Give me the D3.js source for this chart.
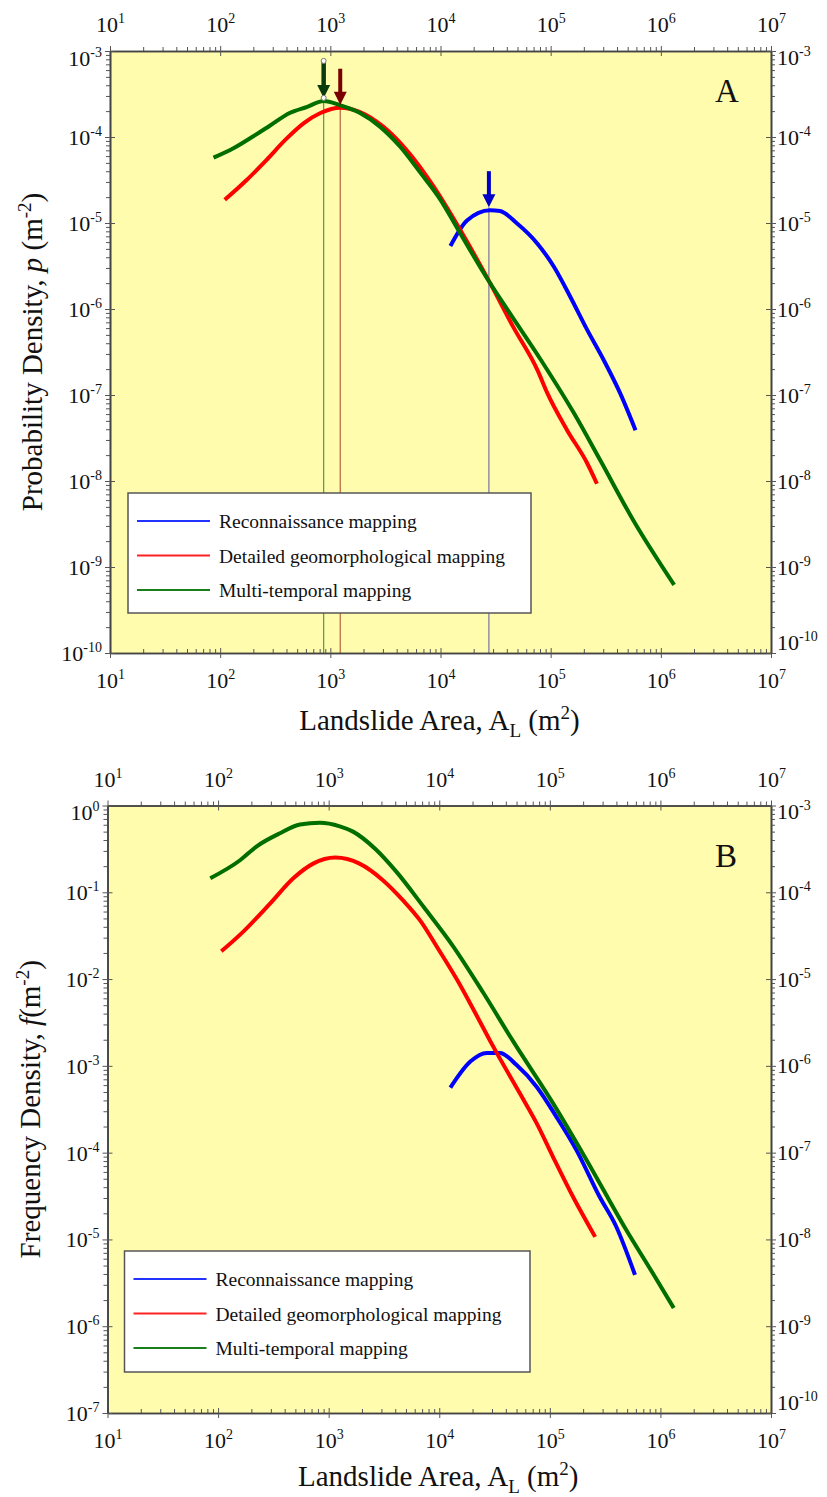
<!DOCTYPE html>
<html>
<head>
<meta charset="utf-8">
<script src="https://cdn.jsdelivr.net/npm/d3@7"></script>
<style>
  body { margin: 0; background: #fff; }
  svg, svg text, svg tspan { font-family: "Liberation Serif", "Times New Roman", Times, "DejaVu Serif", serif !important; }
  svg text { fill: #111; }
</style>
</head>
<body>
<svg id="chart" width="827" height="1497" font-family="Liberation Serif, serif"></svg>
<script>
// Landslide area-density curves: [area m2, density]
var seriesNames = ["Reconnaissance mapping", "Detailed geomorphological mapping", "Multi-temporal mapping"];

var areaTicks = [1e1, 1e2, 1e3, 1e4, 1e5, 1e6, 1e7];
var probTicks = [1e-3, 1e-4, 1e-5, 1e-6, 1e-7, 1e-8, 1e-9, 1e-10];
var freqTicks = [1e0, 1e-1, 1e-2, 1e-3, 1e-4, 1e-5, 1e-6, 1e-7];

// panel A: probability density p
var reconP = [[12300,5.4e-6],[17400,1.07e-5],[28200,1.41e-5],[34700,1.38e-5],[49000,1.0e-5],[75900,5.75e-6],
  [107000,3.1e-6],[151000,1.38e-6],[214000,5.75e-7],[302000,2.57e-7],[427000,1.05e-7],[589000,3.9e-8]];
var detailP = [[110,1.86e-5],[174,3.16e-5],[263,5.4e-5],[398,9.5e-5],[575,1.45e-4],[813,1.9e-4],[1230,2.19e-4],
  [1860,1.95e-4],[3020,1.32e-4],[4900,7.1e-5],[8710,2.63e-5],[14500,9.1e-6],[28200,2.0e-6],[45700,6.2e-7],
  [75900,1.95e-7],[93300,1.05e-7],[141000,3.9e-8],[214000,1.62e-8],[263000,9.3e-9]];
var multiP = [[87,5.75e-5],[132,7.4e-5],[200,1.02e-4],[282,1.35e-4],[427,1.9e-4],[617,2.24e-4],[871,2.63e-4],
  [1230,2.34e-4],[1860,1.9e-4],[2820,1.32e-4],[4270,7.8e-5],[6610,3.8e-5],[10000,1.86e-5],[14500,8.3e-6],
  [27500,2.1e-6],[42700,8.9e-7],[81300,2.57e-7],[162000,6.2e-8],[282000,1.74e-8],[562000,3.5e-9],[1320000,6.2e-10]];

// modes marked by arrows in panel A (recon, detailed, multi)
var modeArea = [27500, 1230, 870];
var modeProb = [1.41e-5, 2.19e-4, 2.63e-4];

// panel B: frequency density f
var reconF = [[12600,5.6e-4],[19100,1.12e-3],[26900,1.41e-3],[35500,1.41e-3],[50100,1.02e-3],[75900,5.75e-4],
  [115000,2.57e-4],[174000,1.07e-4],[282000,3.1e-5],[398000,1.41e-5],[589000,3.9e-6]];
var detailF = [[107,0.0209],[170,0.0355],[295,0.0741],[479,0.145],[724,0.214],[1150,0.251],[1900,0.214],
  [3090,0.138],[4680,0.0813],[6760,0.0468],[9550,0.0234],[14500,0.0098],[19100,0.0052],[28800,0.00195],
  [33100,1.41e-3],[53700,4.8e-4],[75900,2.19e-4],[107000,8.9e-5],[162000,3.1e-5],[257000,1.07e-5]];
var multiF = [[85,0.145],[158,0.234],[224,0.339],[363,0.479],[550,0.603],[832,0.631],[1260,0.575],[1660,0.50],
  [2690,0.309],[4070,0.174],[7240,0.0676],[13500,0.0234],[25100,0.0069],[46800,1.9e-3],[107000,3.7e-4],
  [214000,8.3e-5],[490000,1.29e-5],[851000,4.1e-6],[1320000,1.62e-6]];

var lineColors = ["#0000ff", "#ff0000", "#006e00"];
var legendColors = ["#2233ff", "#ff2222", "#1a7f1a"];
var arrowColors = ["#0000c8", "#7a0000", "#0b3a0b"];
var guideColors = ["#7474a4", "#b8603c", "#4f9a4f"];

var svg = d3.select("#chart");

function powLabel(text, d) {
  var e = Math.round(Math.log10(d));
  text.text(null);
  text.append("tspan").text("10");
  text.append("tspan").attr("dy", -9).attr("font-size", 14).text(e);
}

function drawPanel(p) {
  var x = d3.scaleLog().domain([1e1, 1e7]).range([p.left, p.right]);
  var y = d3.scaleLog().domain([p.yTicks[p.yTicks.length - 1], p.yTicks[0]]).range([p.bottom, p.top]);
  var yR = d3.scaleLog().domain([1e-10, 1e-3]).range([p.bottom, p.top]);

  var g = svg.append("g");

  g.append("rect")
    .attr("x", p.left).attr("y", p.top)
    .attr("width", p.right - p.left).attr("height", p.bottom - p.top)
    .attr("fill", "#fffdad");

  // guide lines at the modes
  if (p.modes) {
    p.modes.forEach(function(m, i) {
      var mx = x(m[0]), tip = y(m[1]) - 3;
      g.append("line")
        .attr("x1", mx).attr("x2", mx).attr("y1", tip).attr("y2", p.bottom)
        .attr("stroke", guideColors[i]).attr("stroke-width", 1.2);
    });
  }

  // legend
  var lg = g.append("g");
  lg.append("rect")
    .attr("x", p.legend[0]).attr("y", p.legend[1])
    .attr("width", p.legend[2]).attr("height", p.legend[3])
    .attr("fill", "#fff").attr("stroke", "#555").attr("stroke-width", 1.5);
  seriesNames.forEach(function(name, i) {
    var ly = p.legend[1] + 28 + i * 34.5;
    lg.append("line")
      .attr("x1", p.legend[0] + 9).attr("x2", p.legend[0] + 82)
      .attr("y1", ly).attr("y2", ly)
      .attr("stroke", legendColors[i]).attr("stroke-width", 2.2);
    lg.append("text")
      .attr("x", p.legend[0] + 91).attr("y", ly + 7)
      .attr("font-size", 19.5).text(name);
  });

  var line = d3.line()
    .x(function(d) { return x(d[0]); })
    .y(function(d) { return y(d[1]); })
    .curve(d3.curveMonotoneX);

  p.series.forEach(function(s, i) {
    g.append("path").datum(s)
      .attr("fill", "none").attr("stroke", lineColors[i])
      .attr("stroke-width", 4).attr("stroke-linejoin", "round")
      .attr("d", line);
  });

  if (p.modes) {
    p.modes.forEach(function(m, i) {
      var mx = x(m[0]), tip = y(m[1]) - 3;
      g.append("line")
        .attr("x1", mx).attr("x2", mx).attr("y1", tip - 36).attr("y2", tip - 10)
        .attr("stroke", arrowColors[i]).attr("stroke-width", i == 2 ? 4.5 : 4);
      g.append("path")
        .attr("d", "M" + (mx - 6.5) + "," + (tip - 13) + "L" + (mx + 6.5) + "," + (tip - 13) + "L" + mx + "," + tip + "Z")
        .attr("fill", arrowColors[i]);
      if (i == 2) {
        [tip - 37, tip].forEach(function(cy) {
          g.append("circle").attr("cx", mx).attr("cy", cy).attr("r", 2.5)
            .attr("fill", "#fff").attr("stroke", "#777").attr("stroke-width", 1);
        });
      }
    });
  }

  // axes
  var minorX = x.ticks().filter(function(d) { return areaTicks.indexOf(d) < 0; });
  var minorY = y.ticks().filter(function(d) { return p.yTicks.indexOf(d) < 0; });
  var minorYR = yR.ticks().filter(function(d) { return probTicks.indexOf(d) < 0; });

  function styleAxis(a) {
    a.attr("font-family", null);
    a.select(".domain").attr("stroke", "#444").attr("stroke-width", 1.6);
    a.selectAll(".tick line").attr("stroke", "#555").attr("stroke-width", 1);
  }

  var bottomMinor = g.append("g").attr("transform", "translate(0," + p.bottom + ")")
    .call(d3.axisBottom(x).tickValues(minorX).tickSize(-4).tickSizeOuter(0).tickFormat(""));
  styleAxis(bottomMinor);
  var bottom = g.append("g").attr("transform", "translate(0," + p.bottom + ")")
    .call(d3.axisBottom(x).tickValues(areaTicks).tickSize(5).tickSizeOuter(0));
  styleAxis(bottom);
  bottom.selectAll(".tick line").attr("y1", -5);
  bottom.selectAll(".tick text").attr("y", 35).attr("dy", null).attr("font-size", 22)
    .each(function(d) { powLabel(d3.select(this), d); });

  var topMinor = g.append("g").attr("transform", "translate(0," + p.top + ")")
    .call(d3.axisTop(x).tickValues(minorX).tickSize(4).tickSizeOuter(0).tickFormat(""));
  styleAxis(topMinor);
  var top = g.append("g").attr("transform", "translate(0," + p.top + ")")
    .call(d3.axisTop(x).tickValues(areaTicks).tickSize(5).tickSizeOuter(0));
  styleAxis(top);
  top.selectAll(".tick line").attr("y1", 5);
  top.selectAll(".tick text").attr("y", -19).attr("dy", null).attr("font-size", 22)
    .each(function(d) { powLabel(d3.select(this), d); });

  var leftMinor = g.append("g").attr("transform", "translate(" + p.left + ",0)")
    .call(d3.axisLeft(y).tickValues(minorY).tickSize(4).tickSizeOuter(0).tickFormat(""));
  styleAxis(leftMinor);
  var left = g.append("g").attr("transform", "translate(" + p.left + ",0)")
    .call(d3.axisLeft(y).tickValues(p.yTicks).tickSize(5).tickSizeOuter(0));
  styleAxis(left);
  left.selectAll(".tick line").attr("x1", 5);
  left.selectAll(".tick text").attr("x", -8).attr("dy", null).attr("font-size", 22)
    .attr("y", function(d, i) { return i == 0 ? 14 : 7.5; })
    .each(function(d) { powLabel(d3.select(this), d); });

  var rightMinor = g.append("g").attr("transform", "translate(" + p.right + ",0)")
    .call(d3.axisRight(yR).tickValues(minorYR).tickSize(4).tickSizeOuter(0).tickFormat(""));
  styleAxis(rightMinor);
  var right = g.append("g").attr("transform", "translate(" + p.right + ",0)")
    .call(d3.axisRight(yR).tickValues(probTicks).tickSize(5).tickSizeOuter(0));
  styleAxis(right);
  right.selectAll(".tick line").attr("x1", -5);
  right.selectAll(".tick text").attr("x", 6).attr("dy", null).attr("font-size", 22)
    .attr("y", function(d, i) { return i == 0 ? 13 : (i == probTicks.length - 1 ? -4 : 7); })
    .each(function(d) { powLabel(d3.select(this), d); });

  // titles
  var xt = g.append("text")
    .attr("x", (p.left + p.right) / 2 - 1).attr("y", p.xTitleY)
    .attr("text-anchor", "middle").attr("font-size", 29);
  xt.append("tspan").text("Landslide Area, A");
  xt.append("tspan").attr("dy", 7).attr("font-size", 19).text("L");
  xt.append("tspan").attr("dy", -7).text(" (m");
  xt.append("tspan").attr("dy", -11).attr("font-size", 19).text("2");
  xt.append("tspan").attr("dy", 11).text(")");

  var cy = (p.top + p.bottom) / 2;
  var yt = g.append("text")
    .attr("transform", "translate(" + p.yTitleX + "," + cy + ") rotate(-90)")
    .attr("text-anchor", "middle").attr("font-size", 29);
  yt.append("tspan").text(p.yTitle + ", ");
  yt.append("tspan").attr("font-style", "italic").text(p.yVar);
  yt.append("tspan").text(p.yVar == "p" ? " (m" : "(m");
  yt.append("tspan").attr("dy", -11).attr("font-size", 19).text("-2");
  yt.append("tspan").attr("dy", 11).text(")");

  g.append("text")
    .attr("x", p.right - 56).attr("y", p.top + p.tagDy)
    .attr("font-size", 33).text(p.tag);
}

drawPanel({
  left: 110, right: 771, top: 51, bottom: 653,
  yTicks: probTicks,
  series: [reconP, detailP, multiP],
  modes: modeArea.map(function(a, i) { return [a, modeProb[i]]; }),
  legend: [128, 493, 403, 120],
  xTitleY: 730, yTitleX: 42,
  yTitle: "Probability Density", yVar: "p",
  tag: "A", tagDy: 51
});

drawPanel({
  left: 107.5, right: 771, top: 805.5, bottom: 1413,
  yTicks: freqTicks,
  series: [reconF, detailF, multiF],
  modes: null,
  legend: [124.5, 1251, 405.5, 121],
  xTitleY: 1486, yTitleX: 40,
  yTitle: "Frequency Density", yVar: "f",
  tag: "B", tagDy: 61
});
</script>
</body>
</html>
